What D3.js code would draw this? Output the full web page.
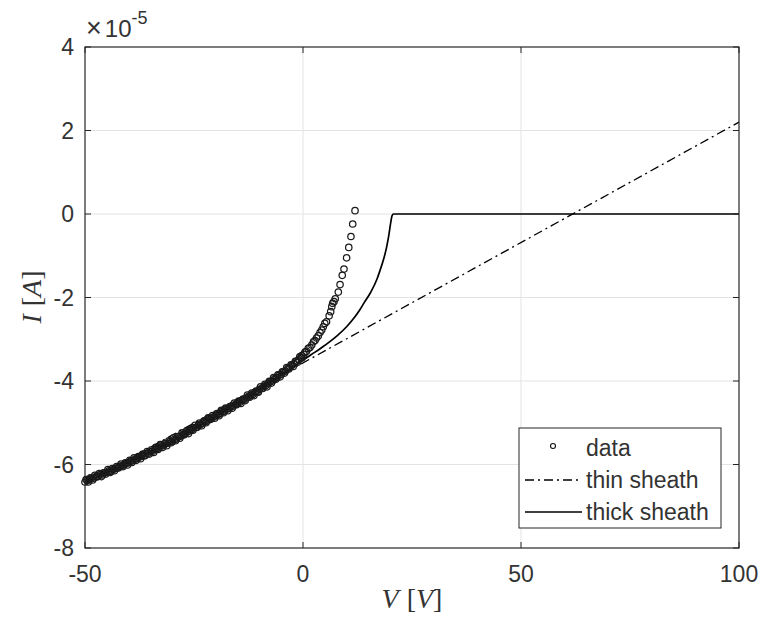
<!DOCTYPE html>
<html>
<head>
<style>
  body { margin: 0; background: #fff; }
  svg { font-family: "Liberation Sans", Arial, sans-serif; }
</style>
</head>
<body>
<svg></svg>
<script src="https://d3js.org/d3.v7.min.js"></script>
<script>
// measured data (V in volts, I in units of 1e-5 A)
const dataV = [-50, -49.5, -49, -48.5, -48, -47.5, -47, -46.5, -46, -45.5, -45, -44.5, -44, -43.5, -43, -42.5, -42, -41.5, -41, -40.5,
  -40, -39.5, -39, -38.5, -38, -37.5, -37, -36.5, -36, -35.5, -35, -34.5, -34, -33.5, -33, -32.5, -32, -31.5, -31, -30.5,
  -30, -29.5, -29, -28.5, -28, -27.5, -27, -26.5, -26, -25.5, -25, -24.5, -24, -23.5, -23, -22.5, -22, -21.5, -21, -20.5,
  -20, -19.5, -19, -18.5, -18, -17.5, -17, -16.5, -16, -15.5, -15, -14.5, -14, -13.5, -13, -12.5, -12, -11.5, -11, -10.5,
  -10, -9.5, -9, -8.5, -8, -7.5, -7, -6.5, -6, -5.5, -5, -4.5, -4, -3.5, -3, -2.5, -2, -1.5, -1, -0.5,
  -49.75, -49.25, -48.75, -48.25, -47.75, -47.25, -46.75, -46.25, -45.75, -45.25, -44.75, -44.25, -43.75, -43.25, -42.75, -42.25, -41.75, -41.25, -40.75, -40.25,
  -39.75, -39.25, -38.75, -38.25, -37.75, -37.25, -36.75, -36.25, -35.75, -35.25, -34.75, -34.25, -33.75, -33.25, -32.75, -32.25, -31.75, -31.25, -30.75, -30.25,
  -29.75, -29.25, -28.75, -28.25, -27.75, -27.25, -26.75, -26.25, -25.75, -25.25, -24.75, -24.25, -23.75, -23.25, -22.75, -22.25, -21.75, -21.25, -20.75, -20.25,
  -19.75, -19.25, -18.75, -18.25, -17.75, -17.25, -16.75, -16.25, -15.75, -15.25, -14.75, -14.25, -13.75, -13.25, -12.75, -12.25, -11.75, -11.25, -10.75, -10.25,
  -9.75, -9.25, -8.75, -8.25, -7.75, -7.25, -6.75, -6.25, -5.75, -5.25, -4.75, -4.25, -3.75, -3.25, -2.75, -2.25, -1.75, -1.25, -0.75, -0.25,
  -0.3, 0.2, 0.45, 0.8, 1.2, 1.6, 2.0, 2.4, 2.75, 3.1, 3.5, 3.9, 4.3, 4.65, 5.0, 5.4, 6.0, 6.35, 6.6, 6.8, 7.1, 7.4,
  8.1, 8.5, 9.0, 9.4, 10.0, 10.5, 11.0, 11.4, 11.93];
const dataI = [-6.42, -6.38, -6.37, -6.33, -6.33, -6.29, -6.28, -6.24, -6.25, -6.20, -6.19, -6.15, -6.16, -6.12, -6.09, -6.08, -6.04, -6.03, -6.00, -5.97,
  -5.96, -5.92, -5.91, -5.87, -5.86, -5.82, -5.80, -5.79, -5.74, -5.73, -5.69, -5.68, -5.64, -5.62, -5.60, -5.55, -5.55, -5.50, -5.49, -5.45,
  -5.45, -5.40, -5.39, -5.33, -5.32, -5.28, -5.26, -5.22, -5.19, -5.17, -5.12, -5.11, -5.06, -5.04, -5.01, -4.97, -4.96, -4.90, -4.89, -4.86,
  -4.83, -4.80, -4.78, -4.73, -4.72, -4.67, -4.66, -4.62, -4.60, -4.56, -4.53, -4.51, -4.46, -4.45, -4.40, -4.38, -4.34, -4.32, -4.27, -4.26,
  -4.20, -4.18, -4.13, -4.11, -4.06, -4.02, -4.00, -3.94, -3.92, -3.86, -3.84, -3.78, -3.76, -3.70, -3.67, -3.62, -3.58, -3.53, -3.49, -3.44,
  -6.36, -6.42, -6.32, -6.37, -6.26, -6.30, -6.22, -6.29, -6.20, -6.23, -6.12, -6.19, -6.10, -6.15, -6.05, -6.08, -5.99, -6.05, -5.96, -6.01,
  -5.90, -5.95, -5.84, -5.90, -5.81, -5.86, -5.75, -5.79, -5.69, -5.75, -5.65, -5.71, -5.59, -5.64, -5.52, -5.59, -5.50, -5.55, -5.43, -5.48,
  -5.37, -5.43, -5.33, -5.37, -5.24, -5.29, -5.20, -5.26, -5.15, -5.18, -5.06, -5.11, -5.01, -5.07, -4.96, -5.00, -4.88, -4.92, -4.83, -4.89,
  -4.78, -4.83, -4.70, -4.76, -4.65, -4.71, -4.61, -4.65, -4.53, -4.57, -4.48, -4.54, -4.43, -4.47, -4.34, -4.39, -4.29, -4.35, -4.24, -4.27,
  -4.14, -4.18, -4.08, -4.14, -4.01, -4.05, -3.92, -3.96, -3.85, -3.90, -3.78, -3.81, -3.68, -3.71, -3.61, -3.65, -3.53, -3.55, -3.42, -3.45,
  -3.39, -3.36, -3.31, -3.29, -3.22, -3.20, -3.14, -3.06, -3.03, -2.97, -2.92, -2.84, -2.78, -2.70, -2.62, -2.58, -2.44, -2.34, -2.22, -2.14, -2.10, -2.03,
  -1.87, -1.69, -1.47, -1.32, -1.05, -0.80, -0.54, -0.24, 0.08];

// thin sheath model (straight line)
const thinV = [-50, 100];
const thinI = [-6.45, 2.2];

// thick sheath model
const thickV = [-50, -45, -40, -35, -30, -25, -20, -15, -10, -5, 0, 2, 4, 6, 8, 10, 12, 13, 14, 15.5, 17, 17.7, 18.5, 19.2, 19.7, 20.1, 20.4, 20.7, 100];
const thickI = [-6.42, -6.19, -5.95, -5.70, -5.45, -5.14, -4.84, -4.53, -4.21, -3.84, -3.50, -3.36, -3.22, -3.07, -2.90, -2.70, -2.45, -2.30, -2.13, -1.88, -1.55, -1.34, -1.08, -0.78, -0.50, -0.22, -0.05, 0, 0];

const xTicks = [-50, 0, 50, 100];
const yTicks = [-8, -6, -4, -2, 0, 2, 4];

const width = 766, height = 629;
const mLeft = 85, mRight = 739, mTop = 47, mBottom = 548;
const axisColor = "#262626";
const labelColor = "#333";

const svg = d3.select("svg").attr("width", width).attr("height", height);

const x = d3.scaleLinear().domain([-50, 100]).range([mLeft, mRight]);
const y = d3.scaleLinear().domain([-8, 4]).range([mBottom, mTop]);

// grid
svg.append("g").selectAll("line").data(xTicks.slice(1, -1)).enter().append("line")
  .attr("x1", d => x(d)).attr("x2", d => x(d)).attr("y1", mTop).attr("y2", mBottom)
  .attr("stroke", "#e3e3e3").attr("stroke-width", 1);
svg.append("g").selectAll("line").data(yTicks.slice(1, -1)).enter().append("line")
  .attr("y1", d => y(d)).attr("y2", d => y(d)).attr("x1", mLeft).attr("x2", mRight)
  .attr("stroke", "#e3e3e3").attr("stroke-width", 1);

// series
const thick = thickV.map((v, i) => [v, thickI[i]]);
const thin = thinV.map((v, i) => [v, thinI[i]]);
const pts = dataV.map((v, i) => [v, dataI[i]]);

const line = d3.line().x(d => x(d[0])).y(d => y(d[1]));

svg.append("path").datum(thin).attr("d", line)
  .attr("fill", "none").attr("stroke", "#000").attr("stroke-width", 1.3)
  .attr("stroke-dasharray", "9,4,2,4");

svg.append("path").datum(thick).attr("d", line.curve(d3.curveMonotoneX))
  .attr("fill", "none").attr("stroke", "#000").attr("stroke-width", 1.7);

svg.append("g").selectAll("circle").data(pts).enter().append("circle")
  .attr("cx", d => x(d[0])).attr("cy", d => y(d[1])).attr("r", 3.2)
  .attr("fill", "none").attr("stroke", "#1a1a1a").attr("stroke-width", 1.25);

// axes box and ticks
svg.append("rect").attr("x", mLeft).attr("y", mTop).attr("width", mRight - mLeft).attr("height", mBottom - mTop)
  .attr("fill", "none").attr("stroke", axisColor).attr("stroke-width", 1.2);

const tickLen = 6;
const tk = svg.append("g").attr("stroke", axisColor).attr("stroke-width", 1);
xTicks.forEach(d => {
  tk.append("line").attr("x1", x(d)).attr("x2", x(d)).attr("y1", mBottom).attr("y2", mBottom - tickLen);
  tk.append("line").attr("x1", x(d)).attr("x2", x(d)).attr("y1", mTop).attr("y2", mTop + tickLen);
});
yTicks.forEach(d => {
  tk.append("line").attr("y1", y(d)).attr("y2", y(d)).attr("x1", mLeft).attr("x2", mLeft + tickLen);
  tk.append("line").attr("y1", y(d)).attr("y2", y(d)).attr("x1", mRight).attr("x2", mRight - tickLen);
});

// tick labels
svg.append("g").selectAll("text").data(xTicks).enter().append("text")
  .attr("x", d => x(d)).attr("y", mBottom + 34).attr("text-anchor", "middle")
  .attr("font-size", 23).attr("fill", labelColor).text(d => d);
svg.append("g").selectAll("text").data(yTicks).enter().append("text")
  .attr("x", mLeft - 11).attr("y", d => y(d) + 8).attr("text-anchor", "end")
  .attr("font-size", 23).attr("fill", labelColor).text(d => d);

// exponent label
const ex = svg.append("text").attr("x", mLeft + 1).attr("y", 37).attr("font-size", 24).attr("fill", labelColor);
ex.append("tspan").attr("font-size", 27).text("\u00d7");
ex.append("tspan").attr("dx", 3).text("10");
ex.append("tspan").attr("dy", -13).attr("font-size", 18).text("-5");

// axis labels (math style: italic symbol, upright brackets)
function mathLabel(sel, sym, unit) {
  sel.style("font-family", "'Liberation Serif', 'DejaVu Serif', serif").attr("font-size", 28).attr("fill", labelColor);
  sel.append("tspan").attr("font-style", "italic").text(sym);
  sel.append("tspan").attr("dx", 8).text("[");
  sel.append("tspan").attr("font-style", "italic").text(unit);
  sel.append("tspan").text("]");
}
mathLabel(svg.append("text").attr("x", (mLeft + mRight) / 2).attr("y", 608).attr("text-anchor", "middle"), "V", "V");
mathLabel(svg.append("text").attr("transform", "translate(41," + 297 + ") rotate(-90)")
  .attr("text-anchor", "middle"), "I", "A");

// legend
const lg = svg.append("g");
lg.append("rect").attr("x", 519).attr("y", 428).attr("width", 202).attr("height", 100)
  .attr("fill", "#fff").attr("stroke", axisColor).attr("stroke-width", 1);
const entries = ["data", "thin sheath", "thick sheath"];
entries.forEach((name, i) => {
  const yy = 448 + i * 32;
  if (i === 0) {
    lg.append("circle").attr("cx", 553).attr("cy", yy - 2).attr("r", 2.5)
      .attr("fill", "none").attr("stroke", "#111").attr("stroke-width", 1.1);
  } else {
    lg.append("line").attr("x1", 525).attr("x2", 582).attr("y1", yy).attr("y2", yy)
      .attr("stroke", "#000").attr("stroke-width", i === 1 ? 1.3 : 1.6)
      .attr("stroke-dasharray", i === 1 ? "9,4,2,4" : null);
  }
  lg.append("text").attr("x", 586).attr("y", yy + 8).attr("font-size", 23)
    .attr("fill", labelColor).text(name);
});
</script>
</body>
</html>
